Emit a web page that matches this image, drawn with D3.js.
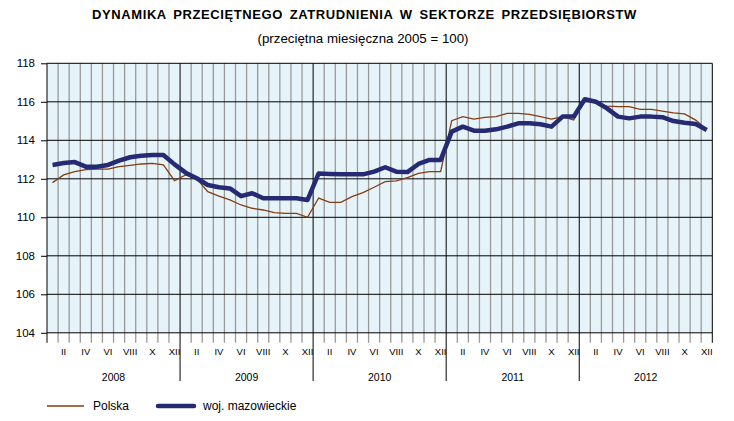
<!DOCTYPE html>
<html>
<head>
<meta charset="utf-8">
<script src="https://cdn.jsdelivr.net/npm/d3@7/dist/d3.min.js"></script>
<style>
  body { margin: 0; background: #fff; }
  text { font-family: Arial, "Liberation Sans", sans-serif; fill: #000; }
</style>
</head>
<body>
<div id="chart"></div>
<script>
// Chart data
const years = ["2008", "2009", "2010", "2011", "2012"];
const monthLabels = ["I", "II", "III", "IV", "V", "VI", "VII", "VIII", "IX", "X", "XI", "XII"];
const yTicks = [104, 106, 108, 110, 112, 114, 116, 118];

const polska = [
  111.8, 112.2, 112.37, 112.48, 112.5, 112.5, 112.63, 112.7, 112.77, 112.8, 112.72, 111.9,
  112.2, 112.0, 111.33, 111.1, 110.9, 110.64, 110.47, 110.38, 110.24, 110.2, 110.2, 110.0,
  111.0, 110.78, 110.78, 111.07, 111.28, 111.56, 111.85, 111.89, 112.06, 112.28, 112.37, 112.37,
  115.02, 115.23, 115.1, 115.19, 115.23, 115.4, 115.4, 115.35, 115.23, 115.1, 115.23, 115.05,
  116.06, 115.95, 115.78, 115.75, 115.75, 115.61, 115.61, 115.52, 115.43, 115.37, 115.05, 114.57
];

const mazowieckie = [
  112.72, 112.82, 112.87, 112.63, 112.63, 112.72, 112.94, 113.12, 113.2, 113.24, 113.24, 112.75,
  112.32, 112.03, 111.68, 111.56, 111.5, 111.1, 111.25, 110.99, 110.99, 110.99, 110.99, 110.9,
  112.28, 112.25, 112.23, 112.23, 112.23, 112.37, 112.6, 112.37, 112.35, 112.77, 112.98, 112.98,
  114.45, 114.71, 114.5, 114.5, 114.57, 114.71, 114.88, 114.88, 114.83, 114.71, 115.23, 115.23,
  116.13, 116.0, 115.66, 115.23, 115.14, 115.23, 115.23, 115.2, 115.0, 114.91, 114.85, 114.54
];

const width = 734, height = 421;
const plot = { left: 47, right: 712.3, top: 63.3, bottom: 332.8 };
const nMonths = years.length * 12;

const svg = d3.select("#chart")
  .append("svg")
  .attr("width", width)
  .attr("height", height);

const x = d3.scaleLinear().domain([0, nMonths]).range([plot.left, plot.right]);
const y = d3.scaleLinear().domain([104, 118]).range([plot.bottom, plot.top]);

// Title (spread out to the reference width)
const title = svg.append("text")
  .attr("x", 92)
  .attr("y", 19)
  .style("font-size", "13px")
  .style("font-weight", "bold")
  .style("letter-spacing", "0.6px")
  .text("DYNAMIKA PRZECIĘTNEGO ZATRUDNIENIA W SEKTORZE PRZEDSIĘBIORSTW");
const tLen = title.node().getComputedTextLength();
title.style("word-spacing", Math.max(0, (545 - tLen) / 5) + "px");

svg.append("text")
  .attr("x", 363)
  .attr("y", 43)
  .attr("text-anchor", "middle")
  .style("font-size", "13.3px")
  .text("(przeciętna miesięczna 2005 = 100)");

// Plot background
svg.append("rect")
  .attr("x", plot.left)
  .attr("y", plot.top)
  .attr("width", plot.right - plot.left)
  .attr("height", plot.bottom - plot.top)
  .attr("fill", "#e6f4fa");

// Vertical month grid lines
const boundaries = d3.range(1, nMonths);
svg.append("g")
  .selectAll("line")
  .data(boundaries.filter(d => d % 12 !== 0))
  .enter()
  .append("line")
  .attr("x1", d => x(d)).attr("x2", d => x(d))
  .attr("y1", plot.top).attr("y2", plot.bottom + 10)
  .attr("stroke", "#999")
  .attr("stroke-width", 1.3);

// Horizontal grid lines
svg.append("g")
  .selectAll("line")
  .data(yTicks)
  .enter()
  .append("line")
  .attr("x1", plot.left).attr("x2", plot.right)
  .attr("y1", d => y(d)).attr("y2", d => y(d))
  .attr("stroke", "#000")
  .attr("stroke-width", 1);

// Year dividers
svg.append("g")
  .selectAll("line")
  .data([12, 24, 36, 48])
  .enter()
  .append("line")
  .attr("x1", d => x(d)).attr("x2", d => x(d))
  .attr("y1", plot.top).attr("y2", 381)
  .attr("stroke", "#000")
  .attr("stroke-width", 1);

// Right border
svg.append("line")
  .attr("x1", plot.right).attr("x2", plot.right)
  .attr("y1", plot.top).attr("y2", plot.bottom + 10)
  .attr("stroke", "#000")
  .attr("stroke-width", 1);

// Y axis
const yAxis = svg.append("g")
  .attr("transform", `translate(${plot.left},0)`)
  .call(d3.axisLeft(y).tickValues(yTicks).tickSize(6).tickPadding(6));
yAxis.select(".domain").attr("stroke", "#000").attr("d", `M0,${plot.bottom + 10}V${plot.top}`);
yAxis.selectAll(".tick text")
  .style("font-size", "11.5px")
  .style("font-family", "Arial, 'Liberation Sans', sans-serif")
  .attr("fill", "#000");

// Month labels (even months only)
const monthData = d3.range(nMonths).filter(i => i % 2 === 1);
svg.append("g")
  .selectAll("text")
  .data(monthData)
  .enter()
  .append("text")
  .attr("x", i => x(i + 0.5))
  .attr("y", 355)
  .attr("text-anchor", "middle")
  .style("font-size", "9.5px")
  .text(i => monthLabels[i % 12]);

// Year labels
svg.append("g")
  .selectAll("text")
  .data(years)
  .enter()
  .append("text")
  .attr("x", (d, i) => x(i * 12 + 6))
  .attr("y", 381)
  .attr("text-anchor", "middle")
  .style("font-size", "10.5px")
  .text(d => d);

// Lines
const line = d3.line()
  .x((d, i) => x(i + 0.5))
  .y(d => y(d));

svg.append("path")
  .datum(polska)
  .attr("fill", "none")
  .attr("stroke", "#843c12")
  .attr("stroke-width", 1.3)
  .attr("d", line);

svg.append("path")
  .datum(mazowieckie)
  .attr("fill", "none")
  .attr("stroke", "#262a72")
  .attr("stroke-width", 4.5)
  .attr("stroke-linejoin", "round")
  .attr("d", line);

// Legend
const legend = svg.append("g");
legend.append("line")
  .attr("x1", 47).attr("x2", 84).attr("y1", 406).attr("y2", 406)
  .attr("stroke", "#843c12").attr("stroke-width", 1.3);
legend.append("text")
  .attr("x", 93).attr("y", 410)
  .style("font-size", "12px")
  .text("Polska");
legend.append("line")
  .attr("x1", 158).attr("x2", 194).attr("y1", 406).attr("y2", 406)
  .attr("stroke", "#262a72").attr("stroke-width", 4.5)
  .attr("stroke-linecap", "round");
legend.append("text")
  .attr("x", 203).attr("y", 410)
  .style("font-size", "12px")
  .text("woj. mazowieckie");
</script>
</body>
</html>
